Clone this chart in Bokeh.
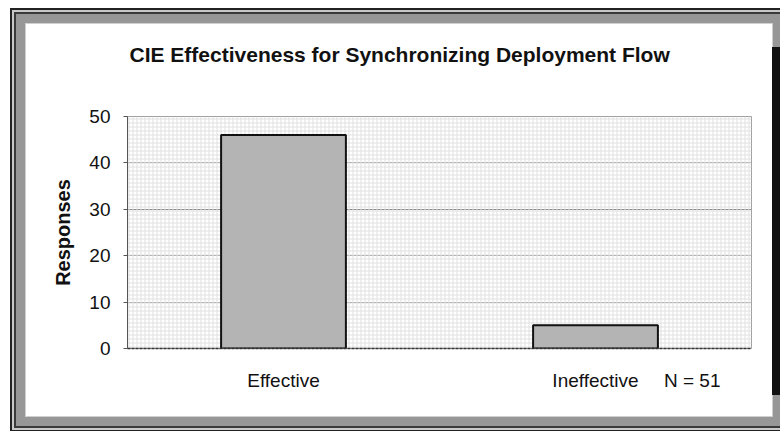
from bokeh.plotting import figure
from bokeh.models import Range1d, FactorRange, Title, BoxAnnotation, LinearAxis, FixedTicker
from bokeh.embed import file_html
from bokeh.resources import INLINE

# ---- data ----
categories = ["Effective", "Ineffective"]
responses = [46, 5]
y_ticks = [0, 10, 20, 30, 40, 50]
title_text = "CIE Effectiveness for Synchronizing Deployment Flow"
y_label = "Responses"
note_text = "N = 51"

FONT = "Liberation Sans"

p = figure(
    x_range=FactorRange(*categories),
    y_range=Range1d(0, 50),
    x_axis_type=None,
    width=746, height=392,
    output_backend="svg", toolbar_location=None,
    min_border_left=101, min_border_right=21,
    min_border_top=92, min_border_bottom=68,
    background_fill_color="white", border_fill_color="white",
)
p.title = None
# two blank lines under the title push its visible line up towards the top edge
p.add_layout(Title(text=title_text + "\n \n ", align="left", offset=2, standoff=10,
                   text_font=FONT, text_font_size="21px", text_font_style="bold",
                   text_color="#111111"), "above")

# fine stipple grid of the background
p.add_layout(BoxAnnotation(fill_alpha=0, line_alpha=0, hatch_pattern="+",
                           hatch_color="#e0e0e0", hatch_scale=4, hatch_weight=1,
                           level="underlay"))

p.vbar(x=categories, top=responses, width=0.4,
       fill_color="#b4b4b4", line_color="#111111", line_width=2)

# x axis: category labels plus the sample-size note
tick_pos = [i + 0.5 for i in range(len(categories))] + [1.81]
tick_txt = categories + [note_text]
xax = LinearAxis(ticker=FixedTicker(ticks=tick_pos),
                 major_label_overrides={t: s for t, s in zip(tick_pos, tick_txt)})
xax.major_label_text_font = FONT
xax.major_label_text_font_size = "19px"
xax.major_label_text_color = "#111111"
xax.major_label_standoff = 15
xax.major_tick_line_color = None
xax.minor_tick_line_color = None
xax.axis_line_color = "#333333"
xax.axis_line_dash = "3 1"
xax.axis_line_width = 1.5
p.add_layout(xax, "below")

# y axis
p.yaxis.ticker = y_ticks
p.yaxis.axis_label = y_label
p.yaxis.axis_label_text_font = FONT
p.yaxis.axis_label_text_font_size = "20px"
p.yaxis.axis_label_text_font_style = "bold"
p.yaxis.axis_label_text_color = "#111111"
p.yaxis.axis_label_standoff = 12
p.yaxis.major_label_text_font = FONT
p.yaxis.major_label_text_font_size = "19px"
p.yaxis.major_label_text_color = "#111111"
p.yaxis.major_label_standoff = 13
p.yaxis.major_tick_out = 4
p.yaxis.major_tick_in = 0
p.yaxis.minor_tick_line_color = None
p.yaxis.axis_line_color = "#555555"
p.yaxis.major_tick_line_color = "#555555"

p.ygrid.grid_line_color = "#8a8a8a"
p.outline_line_color = "#a0a0a0"

# beveled frame around the chart
p.margin = (24, 0, 0, 26)
p.styles = {"box-shadow": "30px 1px 0 -22px #111, 0 0 0 1px #d0d0d0, 0 0 0 10px #979797, "
                          "0 0 0 12px #3a3a3a, 0 0 0 14px #c8c8c8, 0 0 0 16px #222"}

open("out.html", "w").write(file_html(p, INLINE))
